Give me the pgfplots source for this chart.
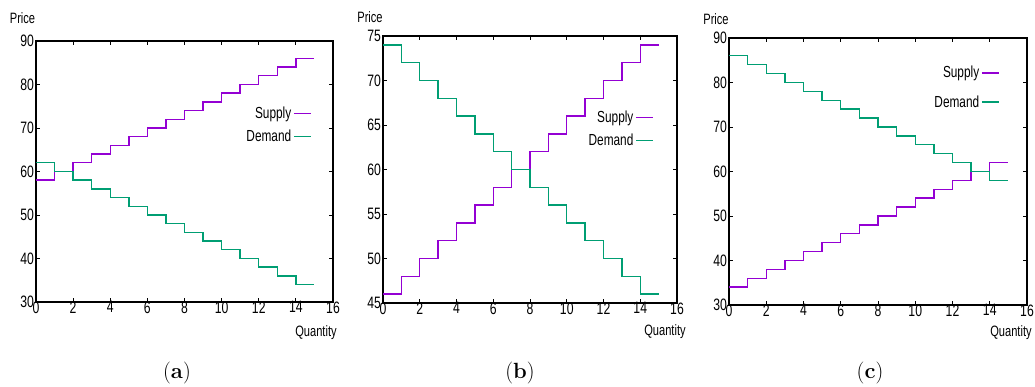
\documentclass[border=0pt]{standalone}
\usepackage{fontspec}
\usepackage{pgfplots}
\pgfplotsset{compat=1.18}
\newfontfamily\gp[FakeStretch=0.74]{Liberation Sans}
\definecolor{sup}{HTML}{9400D3}
\definecolor{dem}{HTML}{009E73}
\pgfplotsset{gpaxis/.style={
  scale only axis, anchor=south west,
  xmin=0,xmax=16, xtick={0,2,...,16},
  tick align=inside, tick pos=both,
  major tick length=4pt,
  axis line style={line width=1.2pt},
  every tick/.style={black, line width=0.8pt},
  /pgf/number format/assume math mode=true,
  tick label style={font=\gp\fontsize{16.5}{16.5}\selectfont},
  xticklabel style={yshift=4pt},
  yticklabel style={xshift=1.5pt},
  legend plot pos=right,
  legend cell align=right,
  legend style={draw=none, fill=none, font=\gp\fontsize{16}{16}\selectfont, anchor=north east, inner sep=0pt, row sep=6pt},
  every axis plot/.append style={line width=1.4pt, const plot},
}}
\begin{document}
\begin{tikzpicture}[x=1pt,y=1pt]
\path[use as bounding box] (0,0) rectangle (1035,387);
% (a)
\begin{axis}[gpaxis, at={(36pt,85pt)}, width=297pt, height=261pt,
  ymin=30, ymax=90, ytick={30,40,...,90},
  legend style={at={(rel axis cs:0.929,0.756)}}]
\addplot[sup] coordinates {(0,58)(1,60)(2,62)(3,64)(4,66)(5,68)(6,70)(7,72)(8,74)(9,76)(10,78)(11,80)(12,82)(13,84)(14,86)(15,86)};
\addlegendentry{Supply}
\addplot[dem] coordinates {(0,62)(1,60)(2,58)(3,56)(4,54)(5,52)(6,50)(7,48)(8,46)(9,44)(10,42)(11,40)(12,38)(13,36)(14,34)(15,34)};
\addlegendentry{Demand}
\end{axis}
% (b)
\begin{axis}[gpaxis, at={(383pt,84pt)}, width=294pt, height=267pt,
  ymin=45, ymax=75, ytick={45,50,...,75},
  legend style={at={(rel axis cs:0.922,0.727)}}]
\addplot[sup] coordinates {(0,46)(1,48)(2,50)(3,52)(4,54)(5,56)(6,58)(7,60)(8,62)(9,64)(10,66)(11,68)(12,70)(13,72)(14,74)(15,74)};
\addlegendentry{Supply}
\addplot[dem] coordinates {(0,74)(1,72)(2,70)(3,68)(4,66)(5,64)(6,62)(7,60)(8,58)(9,56)(10,54)(11,52)(12,50)(13,48)(14,46)(15,46)};
\addlegendentry{Demand}
\end{axis}
% (c)
\begin{axis}[gpaxis, at={(729pt,82pt)}, width=298pt, height=267pt,
  ymin=30, ymax=90, ytick={30,40,...,90},
  legend style={at={(rel axis cs:0.909,0.902)}, row sep=12pt}]
\addplot[sup] coordinates {(0,34)(1,36)(2,38)(3,40)(4,42)(5,44)(6,46)(7,48)(8,50)(9,52)(10,54)(11,56)(12,58)(13,60)(14,62)(15,62)};
\addlegendentry{Supply}
\addplot[dem] coordinates {(0,86)(1,84)(2,82)(3,80)(4,78)(5,76)(6,74)(7,72)(8,70)(9,68)(10,66)(11,64)(12,62)(13,60)(14,58)(15,58)};
\addlegendentry{Demand}
\end{axis}
% labels
\begin{scope}[every node/.style={font=\gp\fontsize{15}{15}\selectfont, inner sep=0pt}]
\node at (22.5,369) {Price};
\node at (370,370) {Price};
\node at (716,368) {Price};
\node at (316,54) {Quantity};
\node at (665,55) {Quantity};
\node at (1011,54) {Quantity};
\end{scope}
\begin{scope}[every node/.style={font=\fontsize{22}{22}\selectfont, inner sep=0pt}]
\node at (177,14) {(\textbf{a})};
\node at (520,14) {(\textbf{b})};
\node at (870,14) {(\textbf{c})};
\end{scope}
\end{tikzpicture}
\end{document}
